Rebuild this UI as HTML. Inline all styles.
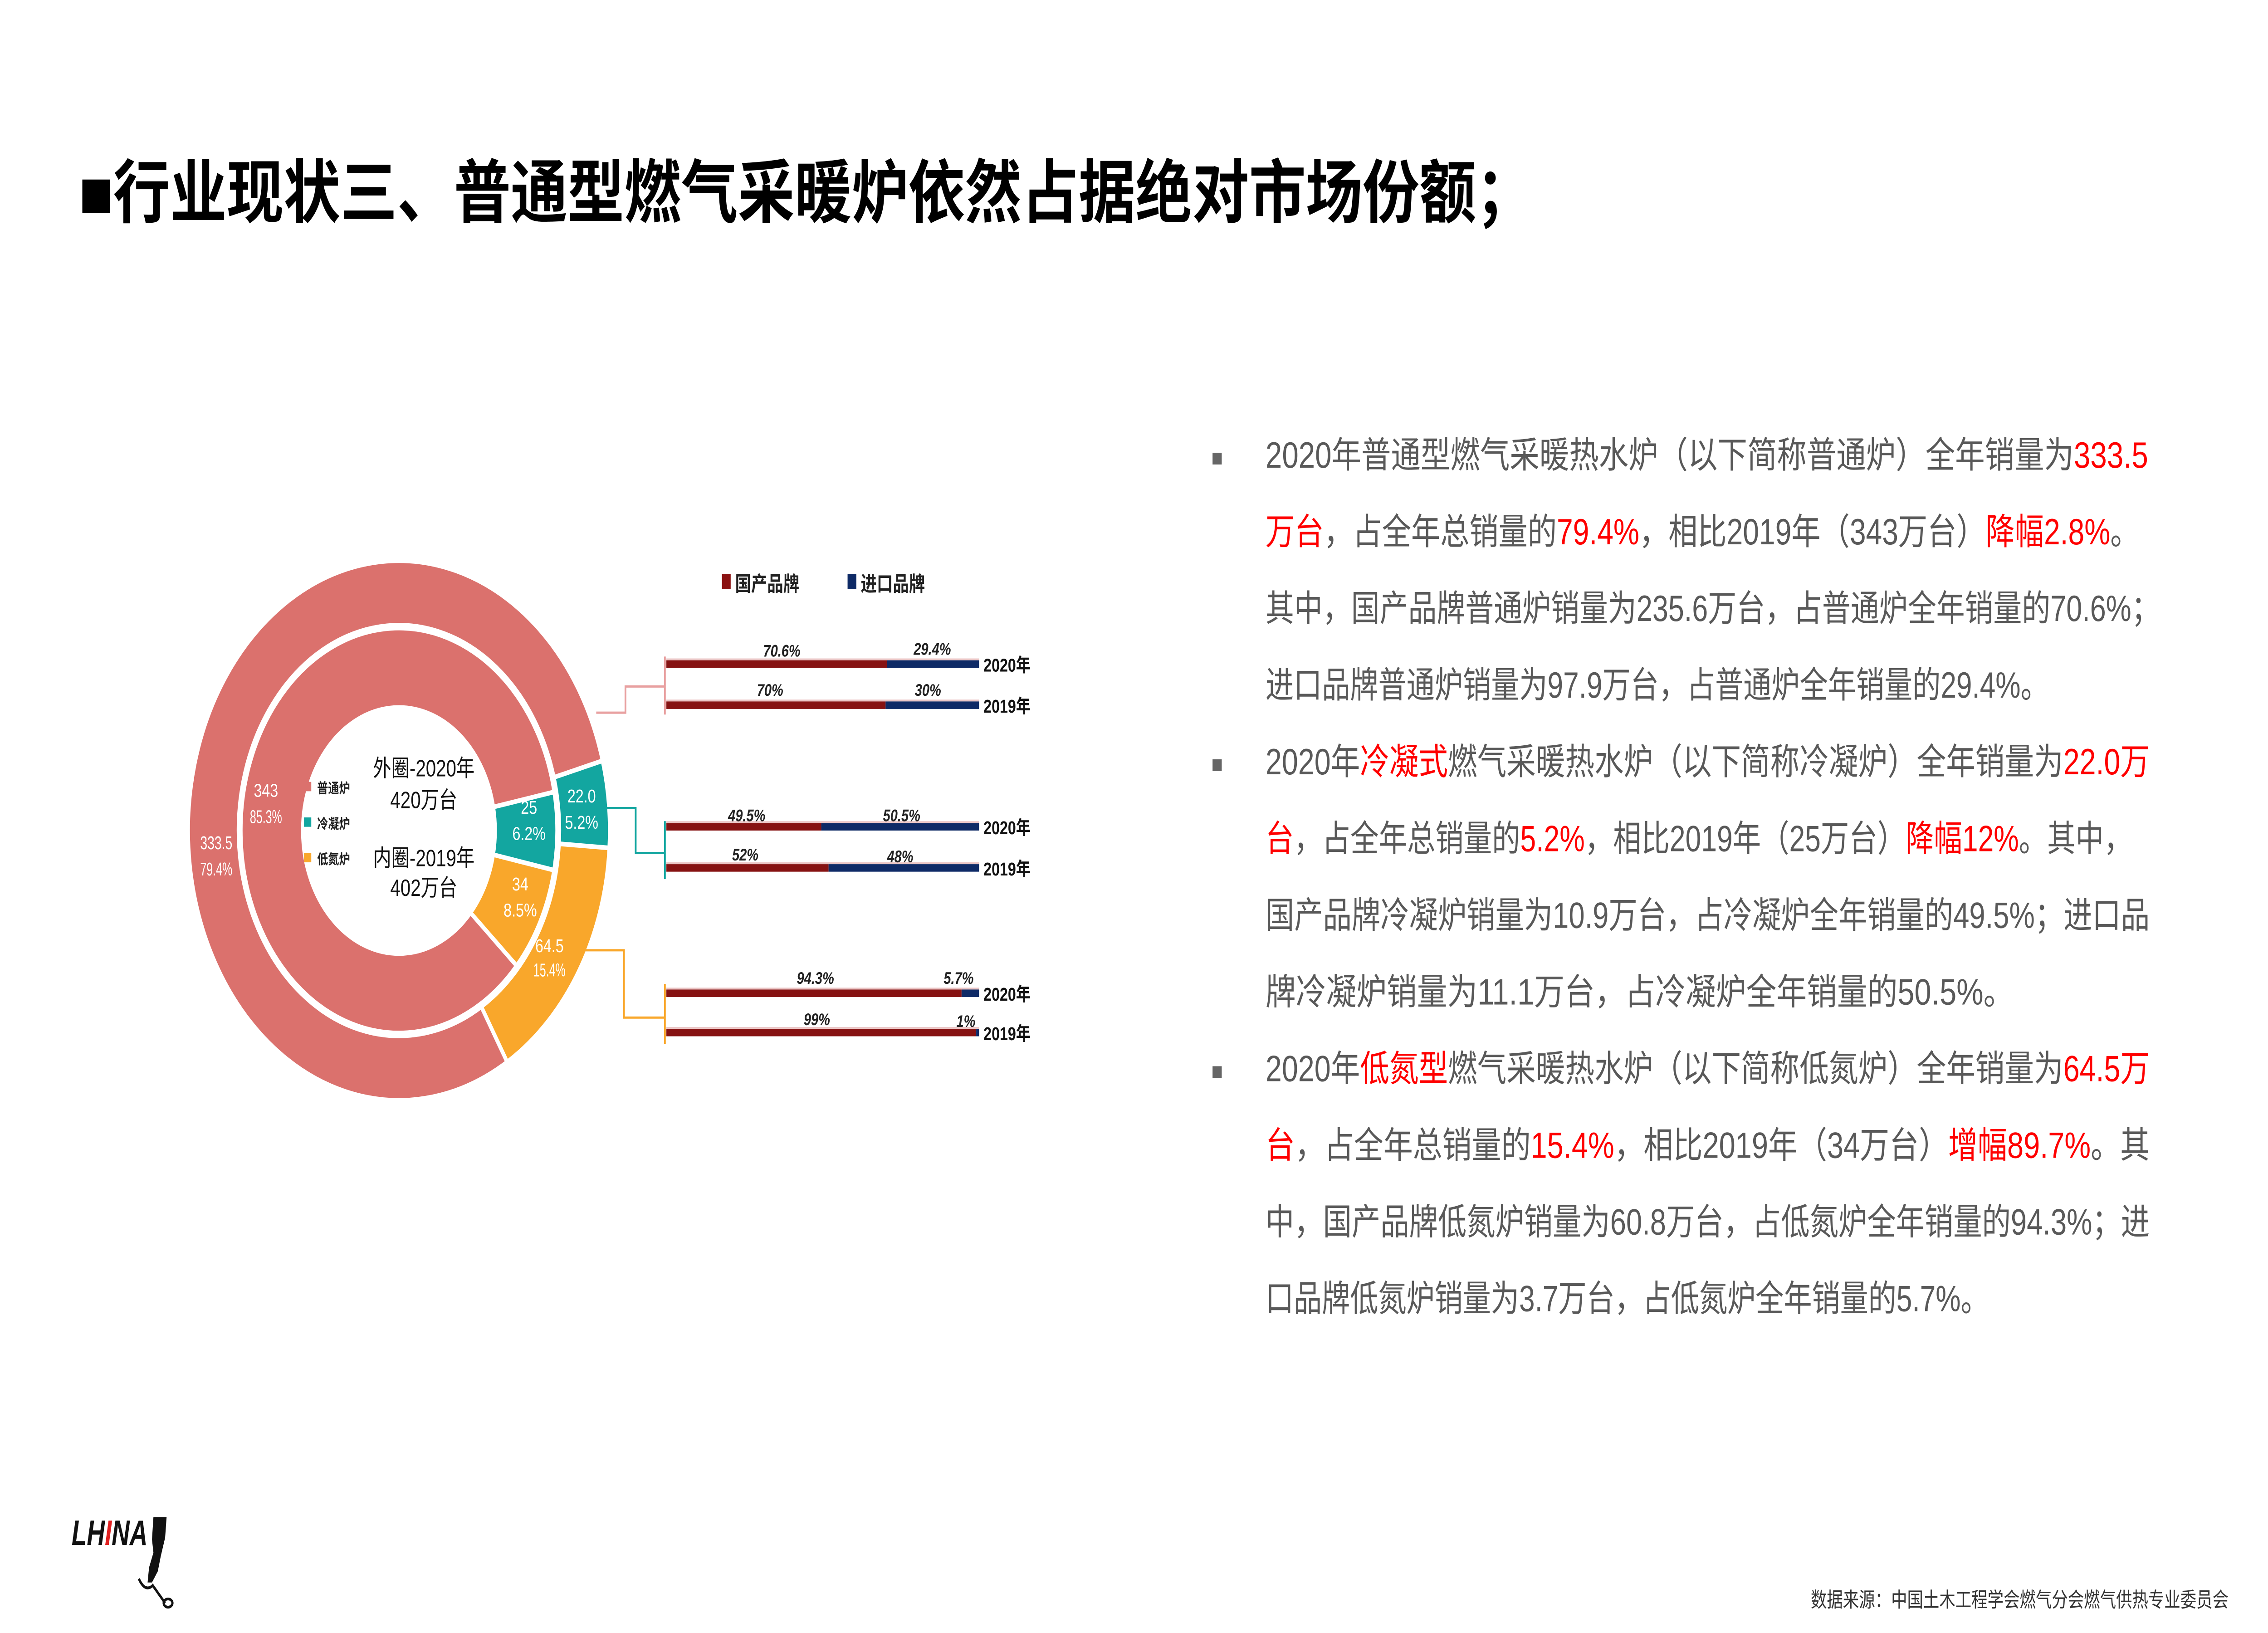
<!DOCTYPE html>
<html><head><meta charset="utf-8"><style>
html,body{margin:0;padding:0;background:#fff;width:100%;height:100%;overflow:hidden;}
svg{display:block;width:100vw;height:100vh;}
text{font-family:"Liberation Sans","Noto Sans CJK SC",sans-serif;}
</style></head><body>
<svg viewBox="0 0 1552 873" preserveAspectRatio="none" xmlns="http://www.w3.org/2000/svg">
<rect width="1552" height="873" fill="#fff"/>
<text x="54" y="116" font-size="37" font-weight="bold" fill="#000" textLength="995" lengthAdjust="spacingAndGlyphs">■行业现状三、普通型燃气采暖炉依然占据绝对市场份额；</text>

<g transform="translate(273,444)">
  <circle r="127" fill="none" stroke="#DB716D" stroke-width="32" stroke-dasharray="633.6 2000" transform="rotate(59.1)"/>
  <circle r="127" fill="none" stroke="#13A6A0" stroke-width="32" stroke-dasharray="41.5 2000" transform="rotate(-15)"/>
  <circle r="127" fill="none" stroke="#F9A72B" stroke-width="32" stroke-dasharray="122.9 2000" transform="rotate(3.7)"/>
  <circle r="87" fill="none" stroke="#DB716D" stroke-width="40" stroke-dasharray="466.3 2000" transform="rotate(41.9)"/>
  <circle r="87" fill="none" stroke="#13A6A0" stroke-width="40" stroke-dasharray="33.9 2000" transform="rotate(-11)"/>
  <circle r="87" fill="none" stroke="#F9A72B" stroke-width="40" stroke-dasharray="46.5 2000" transform="rotate(11.3)"/>
  <g stroke="#fff" stroke-width="2.5">
    <line x1="110" y1="0" x2="144" y2="0" transform="rotate(-15)"/>
    <line x1="110" y1="0" x2="144" y2="0" transform="rotate(3.7)"/>
    <line x1="110" y1="0" x2="144" y2="0" transform="rotate(59.1)"/>
    <line x1="66" y1="0" x2="108" y2="0" transform="rotate(-11)"/>
    <line x1="66" y1="0" x2="108" y2="0" transform="rotate(11.3)"/>
    <line x1="66" y1="0" x2="108" y2="0" transform="rotate(41.9)"/>
  </g>
  <circle r="109" fill="none" stroke="#fff" stroke-width="3"/>
</g>
<g fill="#fff" font-size="10" text-anchor="middle">
  <text x="148" y="454" textLength="22" lengthAdjust="spacingAndGlyphs">333.5</text><text x="148" y="468" textLength="22" lengthAdjust="spacingAndGlyphs">79.4%</text>
  <text x="182" y="426">343</text><text x="182" y="440" textLength="22" lengthAdjust="spacingAndGlyphs">85.3%</text>
  <text x="362" y="435">25</text><text x="362" y="449">6.2%</text>
  <text x="398" y="429">22.0</text><text x="398" y="443">5.2%</text>
  <text x="356" y="476">34</text><text x="356" y="490">8.5%</text>
  <text x="376" y="509">64.5</text><text x="376" y="522" textLength="22" lengthAdjust="spacingAndGlyphs">15.4%</text>
</g>
<rect x="208" y="418" width="5" height="5" fill="#DB716D"/>
<rect x="208" y="437" width="5" height="5" fill="#13A6A0"/>
<rect x="208" y="456" width="5" height="5" fill="#F9A72B"/>
<g font-size="7.5" fill="#222" font-weight="bold">
  <text x="217" y="424">普通炉</text><text x="217" y="443">冷凝炉</text><text x="217" y="462">低氮炉</text>
</g>
<g font-size="12.5" fill="#111" text-anchor="middle">
  <text x="290" y="415">外圈-2020年</text><text x="290" y="432">420万台</text>
  <text x="290" y="463">内圈-2019年</text><text x="290" y="479">402万台</text>
</g>

<polyline points="408,381 428,381 428,367 455,367" fill="none" stroke="#E8A0A0" stroke-width="1.2"/>
<line x1="455" y1="351" x2="455" y2="382" stroke="#E8A0A0" stroke-width="1.2"/>
<polyline points="415,432 435,432 435,456 455,456" fill="none" stroke="#13A6A0" stroke-width="1.2"/>
<line x1="455" y1="439" x2="455" y2="470" stroke="#13A6A0" stroke-width="1.2"/>
<polyline points="400,508 427,508 427,544 455,544" fill="none" stroke="#F9A72B" stroke-width="1.2"/>
<line x1="455" y1="526" x2="455" y2="558" stroke="#F9A72B" stroke-width="1.2"/>

<rect x="494" y="307" width="6" height="8" fill="#8B1212"/>
<text x="503" y="316" font-size="11" font-weight="bold" fill="#222">国产品牌</text>
<rect x="580" y="307" width="6" height="8" fill="#0E2A66"/>
<text x="589" y="316" font-size="11" font-weight="bold" fill="#222">进口品牌</text>

<g>
  <rect x="456" y="352" width="214" height="1" fill="#EBC6C6"/>
  <rect x="456" y="353" width="151" height="4" fill="#861212"/><rect x="607" y="353" width="63" height="4" fill="#0E2A66"/>
  <rect x="456" y="374" width="214" height="1" fill="#EBC6C6"/>
  <rect x="456" y="375" width="150" height="4" fill="#861212"/><rect x="606" y="375" width="64" height="4" fill="#0E2A66"/>
  <rect x="456" y="439" width="214" height="1" fill="#EBC6C6"/>
  <rect x="456" y="440" width="106" height="4" fill="#861212"/><rect x="562" y="440" width="108" height="4" fill="#0E2A66"/>
  <rect x="456" y="461" width="214" height="1" fill="#EBC6C6"/>
  <rect x="456" y="462" width="111" height="4" fill="#861212"/><rect x="567" y="462" width="103" height="4" fill="#0E2A66"/>
  <rect x="456" y="528" width="214" height="1" fill="#EBC6C6"/>
  <rect x="456" y="529" width="202" height="4" fill="#861212"/><rect x="658" y="529" width="12" height="4" fill="#0E2A66"/>
  <rect x="456" y="549" width="214" height="1" fill="#EBC6C6"/>
  <rect x="456" y="550" width="212" height="4" fill="#861212"/><rect x="668" y="550" width="2" height="4" fill="#0E2A66"/>
</g>
<g font-size="9" fill="#222" font-style="italic" font-weight="bold" text-anchor="middle">
  <text x="535" y="351">70.6%</text><text x="638" y="350">29.4%</text>
  <text x="527" y="372">70%</text><text x="635" y="372">30%</text>
  <text x="511" y="439">49.5%</text><text x="617" y="439">50.5%</text>
  <text x="510" y="460">52%</text><text x="616" y="461">48%</text>
  <text x="558" y="526">94.3%</text><text x="656" y="526">5.7%</text>
  <text x="559" y="548">99%</text><text x="661" y="549">1%</text>
</g>
<g font-size="10" fill="#111" font-weight="bold">
  <text x="673" y="359">2020年</text><text x="673" y="381">2019年</text>
  <text x="673" y="446">2020年</text><text x="673" y="468">2019年</text>
  <text x="673" y="535">2020年</text><text x="673" y="556">2019年</text>
</g>

<g fill="#666" font-size="13">
  <text x="829" y="249">■</text><text x="829" y="413">■</text><text x="829" y="577">■</text>
</g>
<g font-size="19.5" fill="#595959">
  <text x="866" y="250" textLength="604" lengthAdjust="spacingAndGlyphs">2020年普通型燃气采暖热水炉（以下简称普通炉）全年销量为<tspan fill="#FF0000">333.5</tspan></text>
  <text x="866" y="291" textLength="598" lengthAdjust="spacingAndGlyphs"><tspan fill="#FF0000">万台</tspan>，占全年总销量的<tspan fill="#FF0000">79.4%</tspan>，相比2019年（343万台）<tspan fill="#FF0000">降幅2.8%</tspan>。</text>
  <text x="866" y="332" textLength="612" lengthAdjust="spacingAndGlyphs">其中，国产品牌普通炉销量为235.6万台，占普通炉全年销量的70.6%；</text>
  <text x="866" y="373" textLength="536" lengthAdjust="spacingAndGlyphs">进口品牌普通炉销量为97.9万台，占普通炉全年销量的29.4%。</text>
  <text x="866" y="414" textLength="605" lengthAdjust="spacingAndGlyphs">2020年<tspan fill="#FF0000">冷凝式</tspan>燃气采暖热水炉（以下简称冷凝炉）全年销量为<tspan fill="#FF0000">22.0万</tspan></text>
  <text x="866" y="455" textLength="593" lengthAdjust="spacingAndGlyphs"><tspan fill="#FF0000">台</tspan>，占全年总销量的<tspan fill="#FF0000">5.2%</tspan>，相比2019年（25万台）<tspan fill="#FF0000">降幅12%</tspan>。其中，</text>
  <text x="866" y="496" textLength="605" lengthAdjust="spacingAndGlyphs">国产品牌冷凝炉销量为10.9万台，占冷凝炉全年销量的49.5%；进口品</text>
  <text x="866" y="537" textLength="512" lengthAdjust="spacingAndGlyphs">牌冷凝炉销量为11.1万台，占冷凝炉全年销量的50.5%。</text>
  <text x="866" y="578" textLength="605" lengthAdjust="spacingAndGlyphs">2020年<tspan fill="#FF0000">低氮型</tspan>燃气采暖热水炉（以下简称低氮炉）全年销量为<tspan fill="#FF0000">64.5万</tspan></text>
  <text x="866" y="619" textLength="605" lengthAdjust="spacingAndGlyphs"><tspan fill="#FF0000">台</tspan>，占全年总销量的<tspan fill="#FF0000">15.4%</tspan>，相比2019年（34万台）<tspan fill="#FF0000">增幅89.7%</tspan>。其</text>
  <text x="866" y="660" textLength="605" lengthAdjust="spacingAndGlyphs">中，国产品牌低氮炉销量为60.8万台，占低氮炉全年销量的94.3%；进</text>
  <text x="866" y="701" textLength="495" lengthAdjust="spacingAndGlyphs">口品牌低氮炉销量为3.7万台，占低氮炉全年销量的5.7%。</text>
</g>

<text x="1525" y="859" font-size="11" fill="#333" text-anchor="end">数据来源：中国土木工程学会燃气分会燃气供热专业委员会</text>

<text x="49" y="826" font-size="19" font-weight="bold" font-style="italic" fill="#111" textLength="52" lengthAdjust="spacingAndGlyphs">LH<tspan fill="#E02020">I</tspan>NA</text>
<path d="M105,811 L114,811 L113,822 L110,832 L108,840 L104,846 L101,846 L102,838 L105,830 L104,823 Z" fill="#111"/>
<path d="M95,844 Q99,851 104,848 M104,847 L113,857" stroke="#111" stroke-width="1.5" fill="none"/>
<ellipse cx="115" cy="857" rx="3" ry="2.2" fill="none" stroke="#111" stroke-width="1.5"/>
</svg>
</body></html>
